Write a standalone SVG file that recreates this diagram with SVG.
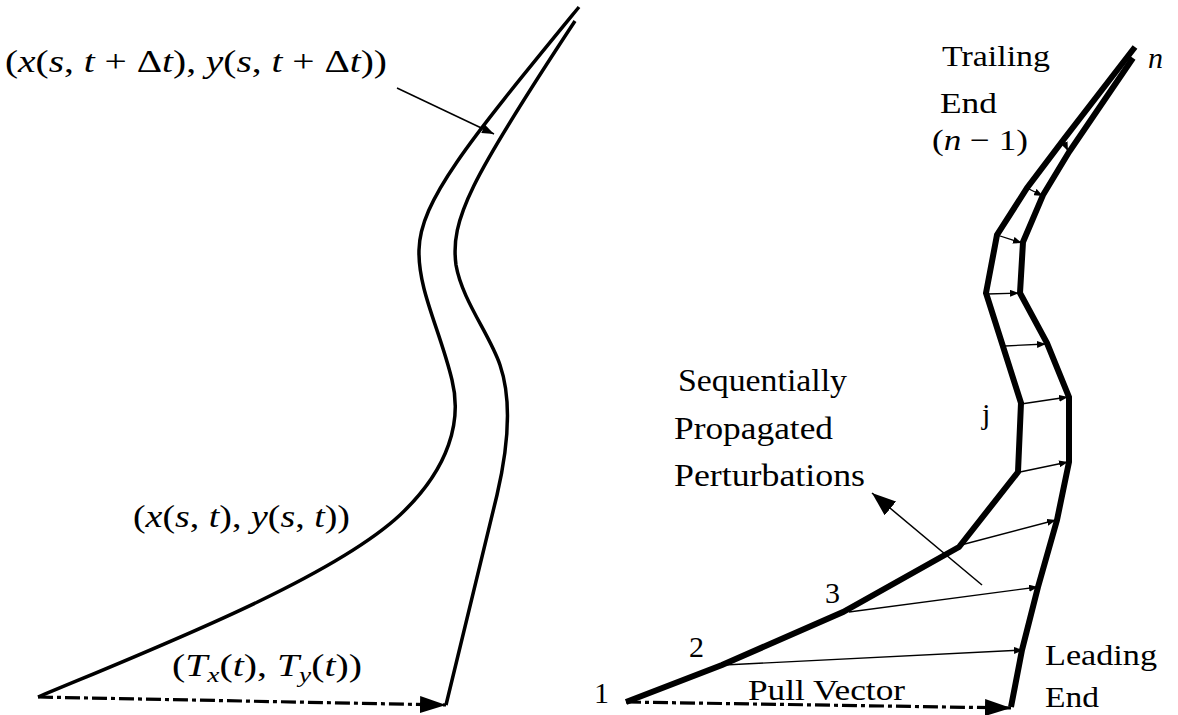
<svg xmlns="http://www.w3.org/2000/svg" width="1178" height="715" viewBox="0 0 1178 715">
<style>
text{font-family:"Liberation Serif","DejaVu Serif",serif;fill:#000}
.m{font-size:32px}
.l{font-size:30px}
.b{font-size:32px}
.i{font-style:italic}
.curve{fill:none;stroke:#000;stroke-width:3.5}
.poly{fill:none;stroke:#000;stroke-width:6;stroke-linejoin:miter}
.thin{fill:none;stroke:#000;stroke-width:1.3}
.dd{fill:none;stroke:#000;stroke-width:3.2;stroke-dasharray:15 4 4 4}
</style>
<defs>
<marker id="sm" markerUnits="userSpaceOnUse" markerWidth="9" markerHeight="7" refX="9" refY="3.5" orient="auto"><path d="M0,0 L9,3.5 L0,7 z" fill="#000"/></marker>
<marker id="md" markerUnits="userSpaceOnUse" markerWidth="12" markerHeight="9" refX="12" refY="4.5" orient="auto"><path d="M0,0 L12,4.5 L0,9 z" fill="#000"/></marker>
<marker id="bg" markerUnits="userSpaceOnUse" markerWidth="24" markerHeight="18" refX="24" refY="9" orient="auto"><path d="M0,0 L24,9 L0,18 z" fill="#000"/></marker>
<marker id="pl" markerUnits="userSpaceOnUse" markerWidth="26" markerHeight="17" refX="26" refY="8.5" orient="auto"><path d="M0,0 L26,8.5 L0,17 z" fill="#000"/></marker>
</defs>

<g id="left-figure">
<g id="curve-t">
<path class="curve" d="M38,697 C150,650 330,580 400,515 C450,468 462,420 452,380 C440,330 418,290 419,250 C420,200 470,140 579,7"/>
</g>
<g id="curve-t-dt">
<path class="curve" d="M446,705 L497,495 C508,448 512,400 500,365 C490,335 462,300 456,265 C450,220 470,180 575,21"/>
</g>
<g id="label-t-dt">
<text class="m" x="5" y="72" textLength="382" lengthAdjust="spacingAndGlyphs">(<tspan class="i">x</tspan>(<tspan class="i">s</tspan>, <tspan class="i">t</tspan> + Δ<tspan class="i">t</tspan>), <tspan class="i">y</tspan>(<tspan class="i">s</tspan>, <tspan class="i">t</tspan> + Δ<tspan class="i">t</tspan>))</text>
</g>
<g id="label-t">
<text class="m" x="133" y="527" textLength="217" lengthAdjust="spacingAndGlyphs">(<tspan class="i">x</tspan>(<tspan class="i">s</tspan>, <tspan class="i">t</tspan>), <tspan class="i">y</tspan>(<tspan class="i">s</tspan>, <tspan class="i">t</tspan>))</text>
</g>
<g id="label-T">
<text class="m" x="172" y="676" textLength="190" lengthAdjust="spacingAndGlyphs">(<tspan class="i">T</tspan><tspan class="i" font-size="22" dy="6">x</tspan><tspan dy="-6">(</tspan><tspan class="i">t</tspan>), <tspan class="i">T</tspan><tspan class="i" font-size="22" dy="6">y</tspan><tspan dy="-6">(</tspan><tspan class="i">t</tspan>))</text>
</g>
</g>

<g id="right-figure">
<g id="polyline-old">
<polyline class="poly" points="626,702 722,665 843,612 959,547 1018,472 1021,403 986,293 997,235 1027,188 1064,139 1135,47"/>
</g>
<g id="polyline-new">
<polyline class="poly" points="1011,707 1022,650 1038,587 1057,520 1069,462 1069,397 1047,343 1020,293 1023,242 1043,195 1069,152 1133,58"/>
</g>
<g id="labels-right">
<text class="l" x="942" y="66" textLength="108" lengthAdjust="spacingAndGlyphs">Trailing</text>
<text class="l" x="940" y="113" textLength="57" lengthAdjust="spacingAndGlyphs">End</text>
<text class="l" x="932" y="150" textLength="96" lengthAdjust="spacingAndGlyphs">(<tspan class="i">n</tspan> − 1)</text>
<text class="l i" x="1148" y="68">n</text>
<text class="l" x="982" y="424">j</text>
<text class="b" x="678" y="391" textLength="169" lengthAdjust="spacingAndGlyphs">Sequentially</text>
<text class="b" x="674" y="439" textLength="159" lengthAdjust="spacingAndGlyphs">Propagated</text>
<text class="b" x="674" y="486" textLength="191" lengthAdjust="spacingAndGlyphs">Perturbations</text>
<text class="l" x="825" y="603">3</text>
<text class="l" x="689" y="657">2</text>
<text class="l" x="594" y="703">1</text>
<text class="l" x="748" y="700" textLength="157" lengthAdjust="spacingAndGlyphs">Pull Vector</text>
<text class="l" x="1045" y="665" textLength="112" lengthAdjust="spacingAndGlyphs">Leading</text>
<text class="l" x="1045" y="707" textLength="54" lengthAdjust="spacingAndGlyphs">End</text>
</g>
</g>

<g id="connectors">
<path class="dd" d="M38,697 L446,705" marker-end="url(#pl)"/>
<path class="thin" style="stroke-width:1.5" d="M397,88 L494,134" marker-end="url(#md)"/>
<path class="dd" d="M626,702 L1011,708" marker-end="url(#pl)"/>
<path class="thin" style="stroke-width:1.5" d="M982,585 L872,493" marker-end="url(#bg)"/>
<path class="thin" d="M1063,140 L1068,151" marker-end="url(#sm)"/>
<path class="thin" d="M1027,188 L1043,196" marker-end="url(#sm)"/>
<path class="thin" d="M997,235 L1022,243" marker-end="url(#sm)"/>
<path class="thin" d="M987,294 L1019,293" marker-end="url(#sm)"/>
<path class="thin" d="M1005,346 L1046,344" marker-end="url(#sm)"/>
<path class="thin" d="M1021,404 L1068,397" marker-end="url(#sm)"/>
<path class="thin" d="M1020,472 L1068,462" marker-end="url(#sm)"/>
<path class="thin" d="M961,545 L1056,520" marker-end="url(#sm)"/>
<path class="thin" d="M849,612 L1038,587" marker-end="url(#sm)"/>
<path class="thin" d="M724,665 L1023,650" marker-end="url(#sm)"/>
</g>
</svg>
